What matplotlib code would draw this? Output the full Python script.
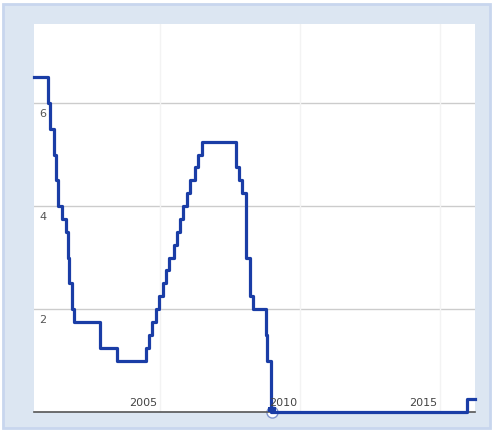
import matplotlib
matplotlib.use("Agg")
import matplotlib.pyplot as plt
from matplotlib.patches import Rectangle

# Federal funds target rate (lower bound after 2008), change dates as fractional years
dates = [2000.50, 2001.01, 2001.08, 2001.21, 2001.30, 2001.37, 2001.49, 2001.64,
         2001.71, 2001.75, 2001.85, 2001.94, 2002.85, 2003.48, 2004.49, 2004.61,
         2004.72, 2004.86, 2004.95, 2005.09, 2005.22, 2005.33, 2005.49, 2005.60,
         2005.72, 2005.83, 2005.95, 2006.08, 2006.24, 2006.36, 2006.49, 2007.71,
         2007.83, 2007.94, 2008.06, 2008.08, 2008.21, 2008.33, 2008.77, 2008.82,
         2008.96, 2015.96, 2016.25]
rates = [6.5, 6.0, 5.5, 5.0, 4.5, 4.0, 3.75, 3.5,
         3.0, 2.5, 2.0, 1.75, 1.25, 1.0, 1.25, 1.5,
         1.75, 2.0, 2.25, 2.5, 2.75, 3.0, 3.25, 3.5,
         3.75, 4.0, 4.25, 4.5, 4.75, 5.0, 5.25, 4.75,
         4.5, 4.25, 3.5, 3.0, 2.25, 2.0, 1.5, 1.0,
         0.0, 0.25, 0.25]
y_ticks = [2, 4, 6]
y_labels = ["2", "4", "6"]
x_ticks = [2005, 2010, 2015]
x_labels = ["2005", "2010", "2015"]

W, H = 494, 434
fig = plt.figure(figsize=(W / 100, H / 100), dpi=100, facecolor="white")

# outer light-blue frame
bg = fig.add_axes([0, 0, 1, 1])
bg.set_xlim(0, W)
bg.set_ylim(H, 0)
bg.axis("off")
bg.add_patch(Rectangle((3, 4), 487, 424, facecolor="#dce6f2",
                       edgecolor="#c8d6ee", linewidth=2))

left, right, top, bottom = 34, 475, 24, 412
ax = fig.add_axes([left / W, (H - bottom) / H, (right - left) / W, (bottom - top) / H])
ax.set_facecolor("white")
ax.set_xlim(2000.5, 2016.25)
ax.set_ylim(0, (bottom - top) / 51.5)

for s in ["top", "right", "left"]:
    ax.spines[s].set_visible(False)
ax.spines["bottom"].set_color("#555555")
ax.spines["bottom"].set_linewidth(1.2)
ax.set_xticks([])
ax.set_yticks([])

for yv, lab in zip(y_ticks, y_labels):
    ax.axhline(yv, color="#cccccc", linewidth=1, zorder=1)
    ax.annotate(lab, xy=(0, yv), xycoords=("axes fraction", "data"),
                xytext=(4, -4), textcoords="offset points", ha="left", va="top",
                fontsize=8, color="#555555", zorder=6)
for xv, lab in zip(x_ticks, x_labels):
    ax.axvline(xv, color="#f3f3f3", linewidth=1, zorder=1)
    ax.annotate(lab, xy=(xv, 0), xycoords=("data", "axes fraction"),
                xytext=(-2, 3), textcoords="offset points", ha="right", va="bottom",
                fontsize=8, color="#444444", zorder=6)

# small annotation flag marker near 2010 (drawn under the line)
ax.plot([2009.0], [0.0], marker="o", ms=8, mfc="white", mec="#8096cf",
        mew=1, zorder=2, clip_on=False)

ax.step(dates, rates, where="post", color="#1a3da6", linewidth=2.3,
        zorder=3, clip_on=False)
ax.add_patch(Rectangle((2008.86, 0.0), 0.3, 0.09, facecolor="#1a3da6",
                       edgecolor="none", zorder=4, clip_on=False))

fig.savefig("out.png", dpi=100, facecolor="white")
